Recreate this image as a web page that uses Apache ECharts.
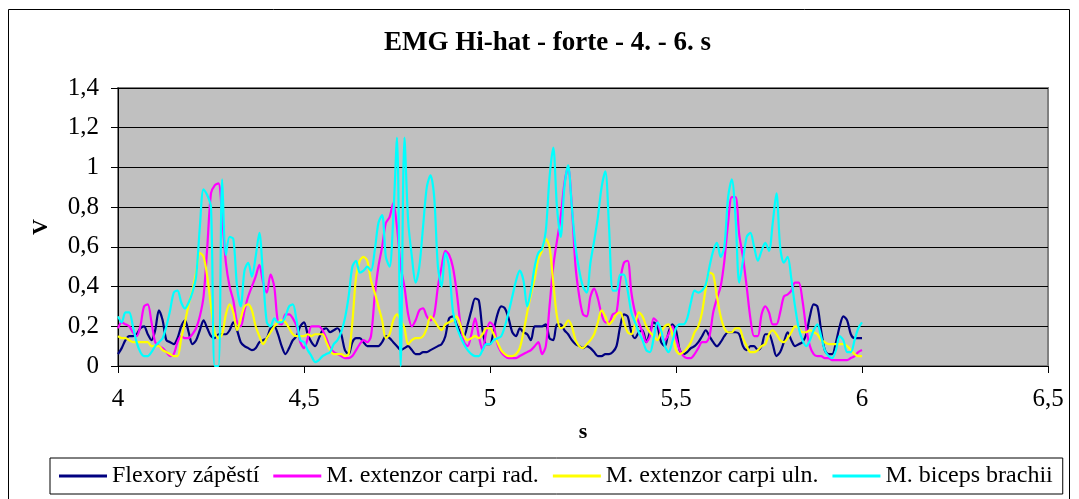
<!DOCTYPE html>
<html>
<head>
<meta charset="utf-8">
<script src="https://cdn.jsdelivr.net/npm/echarts@6/dist/echarts.min.js"></script>
<style>
html,body{margin:0;padding:0;background:#fff;}
#c{width:1079px;height:499px;}
</style>
</head>
<body>
<div id="c"></div>
<script>
// sample times (s), 4.00 .. 6.00 in 0.01 s steps
const times = Array.from({length: 201}, (_, i) => +(4 + i * 0.01).toFixed(2));

const xTicks = [4, 4.5, 5, 5.5, 6, 6.5];
const yTicks = [0, 0.2, 0.4, 0.6, 0.8, 1, 1.2, 1.4];

const seriesNames = ['Flexory zápěstí', 'M. extenzor carpi rad.', 'M. extenzor carpi uln.', 'M. biceps brachii'];

const flexory = [
0.06,0.09,0.13,0.15,0.15,0.16,0.19,0.20,0.16,0.13,
0.18,0.28,0.23,0.13,0.12,0.11,0.14,0.20,0.23,0.17,
0.11,0.13,0.18,0.23,0.19,0.15,0.14,0.16,0.16,0.16,
0.18,0.22,0.18,0.12,0.10,0.09,0.08,0.09,0.12,0.13,
0.14,0.19,0.20,0.16,0.10,0.06,0.09,0.13,0.15,0.20,
0.22,0.16,0.12,0.10,0.14,0.18,0.19,0.17,0.18,0.19,
0.16,0.08,0.06,0.12,0.14,0.14,0.12,0.10,0.10,0.10,
0.10,0.12,0.15,0.14,0.12,0.10,0.08,0.09,0.10,0.08,
0.06,0.06,0.07,0.07,0.08,0.09,0.10,0.11,0.15,0.24,
0.25,0.21,0.17,0.15,0.21,0.28,0.34,0.33,0.18,0.11,
0.11,0.18,0.26,0.30,0.29,0.24,0.17,0.15,0.19,0.17,
0.16,0.13,0.20,0.20,0.20,0.21,0.14,0.13,0.21,0.21,
0.18,0.16,0.13,0.11,0.10,0.09,0.10,0.09,0.07,0.05,
0.05,0.06,0.06,0.07,0.10,0.20,0.26,0.25,0.17,0.14,
0.17,0.18,0.12,0.17,0.22,0.20,0.12,0.10,0.17,0.21,
0.18,0.08,0.06,0.07,0.09,0.10,0.12,0.15,0.18,0.15,
0.12,0.10,0.12,0.15,0.17,0.17,0.17,0.16,0.10,0.08,
0.10,0.10,0.08,0.10,0.16,0.16,0.11,0.05,0.07,0.12,
0.17,0.13,0.10,0.11,0.12,0.16,0.25,0.31,0.30,0.18,
0.08,0.06,0.06,0.12,0.20,0.25,0.23,0.16,0.14,0.14,
0.14];

const extRad = [
0.19,0.22,0.21,0.20,0.17,0.15,0.20,0.30,0.31,0.22,
0.12,0.10,0.09,0.07,0.05,0.06,0.12,0.15,0.14,0.14,
0.16,0.19,0.25,0.35,0.60,0.87,0.91,0.92,0.75,0.52,
0.40,0.33,0.22,0.20,0.28,0.35,0.40,0.45,0.51,0.42,
0.37,0.46,0.40,0.22,0.21,0.26,0.26,0.24,0.20,0.12,
0.09,0.14,0.20,0.20,0.20,0.18,0.14,0.09,0.07,0.06,
0.05,0.04,0.04,0.05,0.08,0.11,0.13,0.12,0.15,0.35,
0.50,0.60,0.72,0.75,0.82,0.70,0.50,0.40,0.26,0.20,
0.23,0.28,0.29,0.25,0.23,0.26,0.40,0.50,0.58,0.56,
0.50,0.38,0.22,0.12,0.10,0.16,0.24,0.15,0.08,0.17,
0.22,0.20,0.11,0.07,0.05,0.04,0.04,0.04,0.05,0.06,
0.07,0.08,0.10,0.12,0.06,0.10,0.30,0.50,0.63,0.75,
0.92,1.00,0.80,0.50,0.35,0.26,0.25,0.35,0.39,0.34,
0.26,0.22,0.22,0.26,0.27,0.43,0.52,0.53,0.37,0.27,
0.22,0.17,0.12,0.15,0.24,0.22,0.16,0.13,0.16,0.20,
0.14,0.08,0.05,0.04,0.04,0.06,0.09,0.12,0.12,0.15,
0.27,0.34,0.40,0.53,0.72,0.85,0.85,0.66,0.55,0.40,
0.24,0.15,0.15,0.26,0.30,0.27,0.21,0.21,0.27,0.35,
0.36,0.38,0.42,0.42,0.33,0.19,0.10,0.06,0.05,0.05,
0.04,0.04,0.03,0.03,0.03,0.03,0.03,0.04,0.05,0.07,
0.08];

const extUln = [
0.15,0.14,0.14,0.13,0.12,0.12,0.12,0.12,0.12,0.10,
0.10,0.10,0.08,0.07,0.06,0.05,0.05,0.14,0.22,0.31,
0.38,0.47,0.57,0.55,0.45,0.30,0.17,0.14,0.16,0.26,
0.31,0.27,0.18,0.24,0.30,0.31,0.28,0.20,0.15,0.11,
0.14,0.17,0.20,0.22,0.23,0.22,0.19,0.16,0.15,0.15,
0.15,0.16,0.15,0.16,0.16,0.16,0.12,0.08,0.06,0.06,
0.06,0.05,0.06,0.22,0.45,0.53,0.55,0.53,0.43,0.37,
0.30,0.23,0.14,0.16,0.23,0.26,0.23,0.19,0.11,0.13,
0.14,0.14,0.15,0.19,0.25,0.23,0.20,0.18,0.21,0.22,
0.23,0.25,0.21,0.15,0.13,0.14,0.15,0.14,0.16,0.19,
0.19,0.16,0.12,0.08,0.06,0.05,0.05,0.06,0.09,0.17,
0.27,0.36,0.44,0.54,0.58,0.64,0.60,0.42,0.25,0.19,
0.20,0.23,0.20,0.13,0.10,0.09,0.11,0.13,0.16,0.22,
0.28,0.25,0.21,0.23,0.26,0.27,0.22,0.17,0.16,0.21,
0.27,0.25,0.20,0.17,0.15,0.13,0.17,0.20,0.21,0.16,
0.08,0.06,0.07,0.09,0.12,0.17,0.20,0.27,0.39,0.47,
0.46,0.35,0.25,0.19,0.17,0.17,0.19,0.19,0.14,0.10,
0.07,0.07,0.08,0.10,0.11,0.16,0.18,0.16,0.13,0.12,
0.14,0.17,0.20,0.19,0.17,0.17,0.18,0.17,0.16,0.13,
0.12,0.11,0.11,0.11,0.11,0.11,0.10,0.08,0.06,0.05,
0.05];

const biceps = [
0.25,0.22,0.27,0.27,0.20,0.12,0.07,0.05,0.05,0.07,
0.10,0.12,0.14,0.20,0.28,0.37,0.38,0.32,0.29,0.32,
0.37,0.45,0.70,0.89,0.86,0.80,0.00,0.00,0.94,0.56,
0.65,0.64,0.40,0.30,0.48,0.52,0.45,0.55,0.67,0.45,
0.22,0.20,0.24,0.22,0.22,0.25,0.30,0.31,0.23,0.13,
0.12,0.08,0.05,0.02,0.03,0.05,0.06,0.07,0.11,0.13,
0.17,0.24,0.35,0.50,0.53,0.47,0.48,0.50,0.48,0.58,
0.72,0.76,0.55,0.50,0.75,1.15,0.00,1.15,0.73,0.55,
0.42,0.50,0.70,0.90,0.96,0.85,0.50,0.40,0.57,0.50,
0.28,0.20,0.15,0.11,0.08,0.06,0.05,0.05,0.08,0.11,
0.11,0.13,0.14,0.15,0.20,0.27,0.35,0.43,0.48,0.43,
0.30,0.38,0.50,0.57,0.59,0.68,0.95,1.10,0.80,0.65,
0.90,1.01,0.80,0.60,0.48,0.40,0.37,0.52,0.63,0.75,
0.90,0.98,0.70,0.38,0.38,0.46,0.46,0.38,0.27,0.22,
0.17,0.13,0.08,0.07,0.14,0.22,0.18,0.10,0.07,0.12,
0.19,0.21,0.21,0.24,0.32,0.38,0.37,0.38,0.41,0.50,
0.58,0.62,0.55,0.60,0.85,0.94,0.75,0.42,0.53,0.65,
0.67,0.60,0.53,0.58,0.62,0.58,0.72,0.87,0.60,0.52,
0.55,0.44,0.30,0.19,0.13,0.10,0.13,0.18,0.21,0.15,
0.08,0.05,0.04,0.08,0.15,0.13,0.07,0.07,0.13,0.19,
0.22];

const seriesValues = [flexory, extRad, extUln, biceps];
const seriesColors = ['#000080', '#FF00FF', '#FFFF00', '#00FFFF'];

const FONT = "'Liberation Serif', 'Times New Roman', serif";
const comma = v => String(v).replace('.', ',');

const chart = echarts.init(document.getElementById('c'), null, {renderer: 'canvas'});
chart.setOption({
  animation: false,
  backgroundColor: '#ffffff',
  title: {
    text: 'EMG Hi-hat - forte - 4. - 6. s',
    left: 379,
    top: 25,
    padding: 5,
    textStyle: {fontFamily: FONT, fontSize: 27, fontWeight: 'bold', color: '#000'}
  },
  graphic: [{
    type: 'rect',
    shape: {x: 8.5, y: 9.5, width: 1061, height: 500},
    style: {fill: 'none', stroke: '#000', lineWidth: 1},
    silent: true,
    z: -10
  }],
  legend: {
    data: seriesNames,
    left: 50,
    top: 458,
    padding: [6, 10, 6, 9],
    itemGap: 14,
    itemWidth: 48,
    itemHeight: 3,
    icon: 'rect',
    borderColor: '#000',
    borderWidth: 1,
    textStyle: {fontFamily: FONT, fontSize: 24, color: '#000'}
  },
  grid: {
    left: 118, right: 31, top: 88, bottom: 133,
    show: true,
    backgroundColor: '#C0C0C0',
    borderColor: '#808080',
    borderWidth: 2
  },
  xAxis: {
    type: 'value',
    min: xTicks[0],
    max: xTicks[xTicks.length - 1],
    interval: 0.5,
    name: 's',
    nameLocation: 'middle',
    nameGap: 55,
    nameTextStyle: {fontFamily: FONT, fontSize: 22, fontWeight: 'bold', color: '#000'},
    axisLine: {show: true, onZero: false, lineStyle: {color: '#000', width: 1}},
    axisTick: {show: true, inside: false, length: 7, lineStyle: {color: '#000'}},
    axisLabel: {formatter: comma, fontFamily: FONT, fontSize: 25, color: '#000', margin: 21},
    splitLine: {show: false}
  },
  yAxis: {
    type: 'value',
    min: yTicks[0],
    max: yTicks[yTicks.length - 1],
    interval: 0.2,
    name: 'V',
    nameLocation: 'middle',
    nameGap: 66,
    nameRotate: 90,
    nameTextStyle: {fontFamily: FONT, fontSize: 22, fontWeight: 'bold', color: '#000'},
    axisLine: {show: true, lineStyle: {color: '#000', width: 1}},
    axisTick: {show: true, inside: false, length: 7, lineStyle: {color: '#000'}},
    axisLabel: {formatter: v => comma(+v.toFixed(1)), fontFamily: FONT, fontSize: 25, color: '#000', margin: 19},
    splitLine: {show: true, lineStyle: {color: '#000', width: 1}}
  },
  series: seriesNames.map((name, k) => ({
    name: name,
    type: 'line',
    data: times.map((t, i) => [t, seriesValues[k][i]]),
    showSymbol: false,
    symbol: 'none',
    smooth: 0.3,
    clip: true,
    color: seriesColors[k],
    lineStyle: {color: seriesColors[k], width: 2.2}
  }))
});
</script>
</body>
</html>
